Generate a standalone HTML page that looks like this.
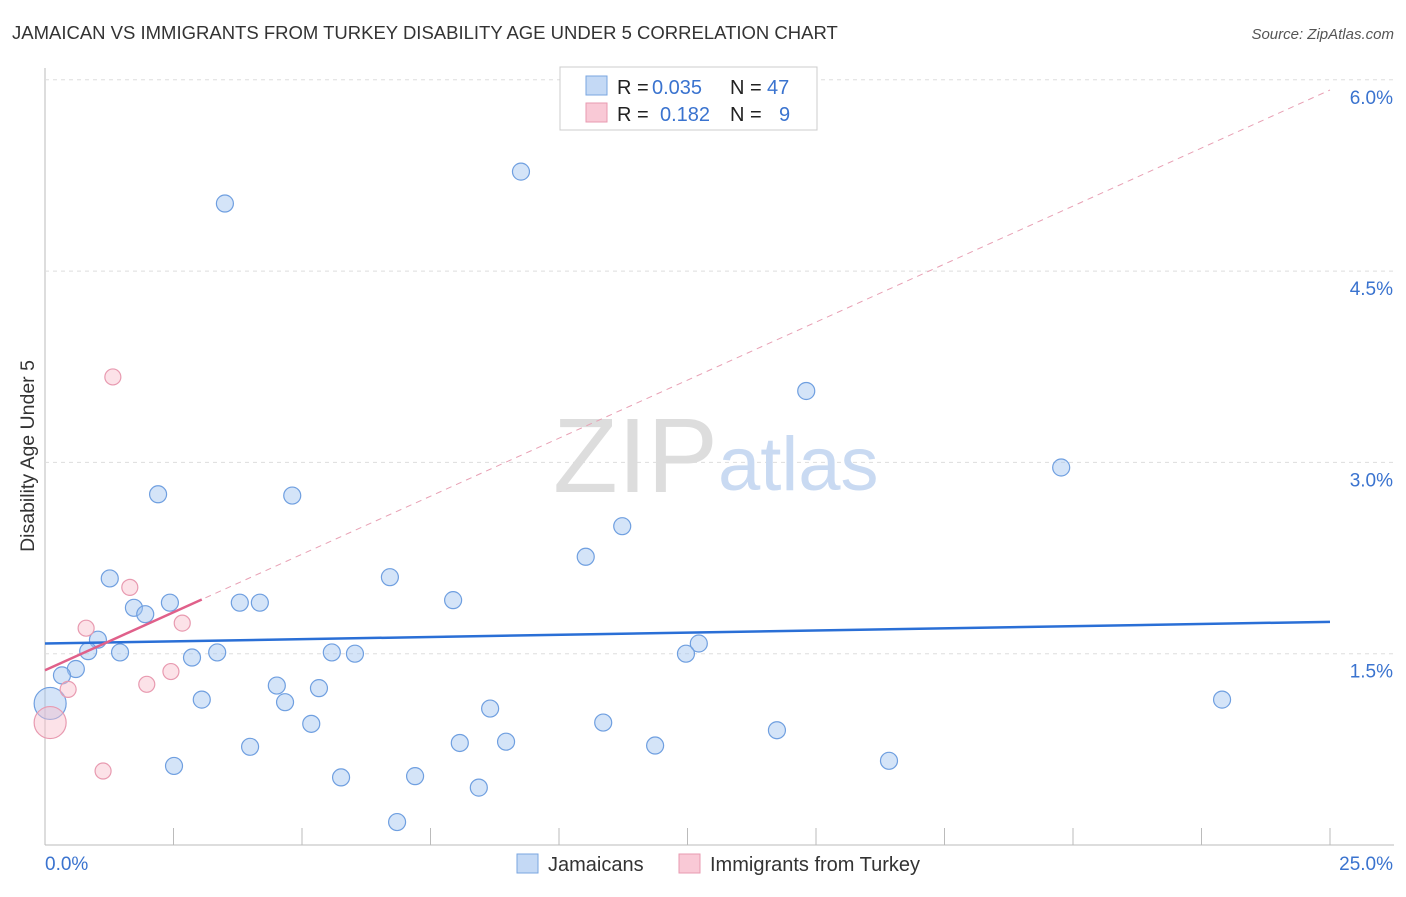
<!DOCTYPE html>
<html><head><meta charset="utf-8"><style>
body{margin:0;background:#fff;font-family:"Liberation Sans",sans-serif}
svg text{font-family:"Liberation Sans",sans-serif}
</style></head><body>
<svg id="chart" width="1406" height="892" xmlns="http://www.w3.org/2000/svg">
<text x="12" y="39" font-size="18.5" fill="#333">JAMAICAN VS IMMIGRANTS FROM TURKEY DISABILITY AGE UNDER 5 CORRELATION CHART</text>
<text x="1394" y="39" font-size="15" fill="#555" text-anchor="end" font-style="italic">Source: ZipAtlas.com</text>
<text x="34" y="456" font-size="19.5" fill="#333" text-anchor="middle" transform="rotate(-90 34 456)">Disability Age Under 5</text>
<g id="grid"></g>
<text x="553" y="492" font-size="106" fill="#ddd" font-family="Liberation Serif">ZIP</text>
<text x="718" y="490" font-size="76" fill="#c9daf2">atlas</text>
<g id="marks"></g>
<g>
<rect x="560" y="67" width="257" height="63" fill="#fff" stroke="#ccc"/>
<rect x="586" y="76" width="21" height="19" fill="#c4d9f5" stroke="#7aa6e0"/>
<rect x="586" y="103" width="21" height="19" fill="#f9c9d6" stroke="#e89ab0"/>
<g font-size="20" fill="#222">
<text x="617" y="94">R =</text><text x="652" y="94" fill="#3a73cf">0.035</text>
<text x="730" y="94">N =</text><text x="767" y="94" fill="#3a73cf">47</text>
<text x="617" y="121">R =</text><text x="660" y="121" fill="#3a73cf">0.182</text>
<text x="730" y="121">N =</text><text x="779" y="121" fill="#3a73cf">9</text>
</g>
</g>
<g>
<rect x="517" y="854" width="21" height="19" fill="#c4d9f5" stroke="#7aa6e0"/>
<text x="548" y="871" font-size="20" fill="#333">Jamaicans</text>
<rect x="679" y="854" width="21" height="19" fill="#f9c9d6" stroke="#e89ab0"/>
<text x="710" y="871" font-size="20" fill="#333">Immigrants from Turkey</text>
</g>
</svg>
<script>
const yTicks=[1.5,3.0,4.5,6.0];
const yTickLabels=["1.5%","3.0%","4.5%","6.0%"];
const xTickLabels=["0.0%","25.0%"];
const blueX=[9.26,3.50,14.81,19.77,2.20,4.81,11.23,10.52,1.26,6.71,7.94,2.43,3.79,4.18,1.73,1.95,1.03,0.84,1.46,3.35,5.58,6.03,12.72,12.47,2.86,0.60,0.33,4.51,5.33,3.05,4.67,0.10,22.90,8.66,10.86,5.18,14.24,8.07,8.97,11.87,3.99,2.51,16.42,5.76,7.20,8.44,6.85];
const blueY=[5.28,5.03,3.56,2.96,2.75,2.74,2.50,2.26,2.09,2.10,1.92,1.90,1.90,1.90,1.86,1.81,1.61,1.52,1.51,1.51,1.51,1.50,1.58,1.50,1.47,1.38,1.33,1.25,1.23,1.14,1.12,1.11,1.14,1.07,0.96,0.95,0.90,0.80,0.81,0.78,0.77,0.62,0.66,0.53,0.54,0.45,0.18];
const pinkX=[1.32,1.65,0.80,2.67,0.45,2.45,1.98,1.13,0.10];
const pinkY=[3.67,2.02,1.70,1.74,1.22,1.36,1.26,0.58,0.96];
const blueTrend=[1.58,1.75];
const pinkTrend=[1.37,5.92];
const X=v=>45+v/25*1285, Y=v=>845-v/1.5*191.3;
const NS="http://www.w3.org/2000/svg";
const grid=document.getElementById('grid'), marks=document.getElementById('marks');
function mk(p,tag,a){const e=document.createElementNS(NS,tag);for(const k in a)e.setAttribute(k,a[k]);p.appendChild(e);return e;}
let ax=mk(grid,'line',{x1:45,y1:68,x2:45,y2:845,stroke:'#bbb'});


let bx=mk(grid,'line',{x1:45,y1:845,x2:1394,y2:845,stroke:'#bbb'});


for(let i=0;i<=10;i++){let t=mk(grid,'line',{x1:X(i*2.5),y1:828,x2:X(i*2.5),y2:845,stroke:'#bbb'});

}
yTicks.forEach((v,i)=>{let g=mk(grid,'line',{x1:45,y1:Y(v),x2:1394,y2:Y(v),stroke:'#ddd','stroke-dasharray':'4,4'});


let t=mk(grid,'text',{x:1393,y:Y(v)+24,'font-size':19,fill:'#3a73cf','text-anchor':'end'});t.textContent=yTickLabels[i];

});
let l0=mk(grid,'text',{x:45,y:870,'font-size':19,fill:'#3a73cf'});l0.textContent=xTickLabels[0];


let l1=mk(grid,'text',{x:1393,y:870,'font-size':19,fill:'#3a73cf','text-anchor':'end'});l1.textContent=xTickLabels[1];


let pd=mk(marks,'line',{x1:X(0),y1:Y(pinkTrend[0]),x2:X(25),y2:Y(pinkTrend[1]),stroke:'#e8a0b4','stroke-dasharray':'6,5','stroke-width':1});


blueX.forEach((x,i)=>{let big=i==31;let c=mk(marks,'circle',{cx:X(x),cy:Y(blueY[i]),r:big?16:8.5,fill:'rgba(160,195,240,0.45)',stroke:'#6f9fe0','stroke-width':1.2});

});
pinkX.forEach((x,i)=>{let big=i==8;let c=mk(marks,'circle',{cx:X(x),cy:Y(pinkY[i]),r:big?16:8,fill:'rgba(248,190,205,0.45)',stroke:'#e89ab0','stroke-width':1.2});

});
let bt=mk(marks,'line',{x1:X(0),y1:Y(blueTrend[0]),x2:X(25),y2:Y(blueTrend[1]),stroke:'#2a6fd6','stroke-width':2.5});


const pe=3.05;
let pt=mk(marks,'line',{x1:X(0),y1:Y(pinkTrend[0]),x2:X(pe),y2:Y(pinkTrend[0]+(pinkTrend[1]-pinkTrend[0])*pe/25),stroke:'#e0608a','stroke-width':2.5});


</script>
</body></html>
